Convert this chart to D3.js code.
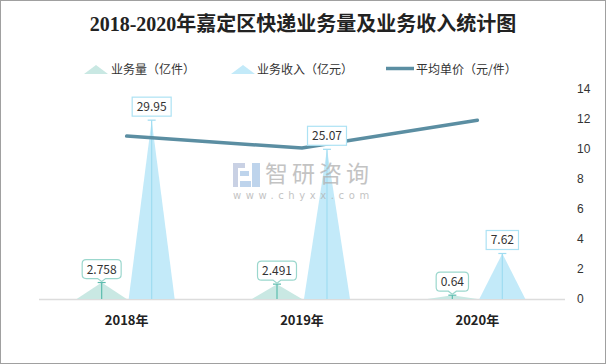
<!DOCTYPE html>
<html><head><meta charset="utf-8">
<script src="https://cdn.jsdelivr.net/npm/d3@7"></script>
<style>
html,body{margin:0;padding:0;background:#fff;}
svg{display:block;font-family:"Noto Sans CJK SC","Noto Sans",sans-serif;}
</style></head>
<body><svg id="c" width="606" height="364"></svg>
<script>
const categories = ['2018年', '2019年', '2020年'];
const volume = [2.758, 2.491, 0.64];        // 业务量（亿件）
const revenue = [29.95, 25.07, 7.62];       // 业务收入（亿元）
const avgPrice = [10.86, 10.06, 11.91];     // 平均单价（元/件）
const rightTicks = [0, 2, 4, 6, 8, 10, 12, 14];
const seriesNames = ['业务量（亿件）', '业务收入（亿元）', '平均单价（元/件）'];

const svg = d3.select('#c');
const C = {
  volFill: '#c9e8e3', volLine: '#5cbcae', volBorder: '#9bd7cd',
  revFill: '#c3eaf9', revLine: '#9fdcf1', revBorder: '#ade2f4',
  price: '#5b8ea2', text: '#333'
};

// border
svg.append('rect').attr('x', 0.5).attr('y', 0.5).attr('width', 605).attr('height', 363)
  .attr('fill', '#fff').attr('stroke', '#a0a0a0');

// title
svg.append('text').attr('x', 303).attr('y', 31).attr('text-anchor', 'middle')
  .attr('font-family', '"Liberation Serif","Noto Sans CJK SC",serif')
  .attr('font-size', 20).attr('font-weight', 'bold').attr('fill', '#222')
  .text('2018-2020年嘉定区快递业务量及业务收入统计图');

const x = d3.scaleBand().domain(categories).range([39, 565]);
const bw = x.bandwidth();
const xs = d3.scaleBand().domain(['v', 'r']).range([bw / 2 - 50, bw / 2 + 50]);
const yL = d3.scaleLinear().domain([0, 35]).range([299, 90]);
const yR = d3.scaleLinear().domain([0, 14]).range([299, 89]);

// baseline
svg.append('line').attr('x1', 39).attr('x2', 565).attr('y1', 299.5).attr('y2', 299.5)
  .attr('stroke', '#dcdcdc').attr('stroke-width', 1.5);

// x axis
const xa = svg.append('g').attr('transform', 'translate(0,299)')
  .call(d3.axisBottom(x).tickSize(0).tickPadding(17));
xa.select('.domain').remove();
xa.selectAll('text').attr('font-size', 13).attr('font-weight', 'bold').attr('fill', '#222')
  .attr('font-family', '"Noto Sans CJK SC",sans-serif');

// right axis
const ra = svg.append('g').attr('transform', 'translate(571,0)')
  .call(d3.axisRight(yR).tickValues(rightTicks).tickSize(0).tickPadding(6));
ra.select('.domain').remove();
ra.selectAll('text').attr('font-size', 12).attr('fill', C.text);

function tri(cx, w, yTop) {
  return `M${cx - w / 2},299 L${cx},${yTop} L${cx + w / 2},299 Z`;
}

const specs = [
  { key: 'v', vals: volume, fill: C.volFill, line: C.volLine, border: C.volBorder, w: 50, callout: true },
  { key: 'r', vals: revenue, fill: C.revFill, line: C.revLine, border: C.revBorder, w: 46, callout: false }
];

const gBars = svg.append('g');
specs.forEach(s => {
  const g = gBars.append('g');
  categories.forEach((c, i) => {
    const cx = x(c) + xs(s.key) + xs.bandwidth() / 2;
    const yt = yL(s.vals[i]);
    g.append('path').attr('d', tri(cx, s.w, yt)).attr('fill', s.fill);
    g.append('line').attr('x1', cx).attr('x2', cx).attr('y1', yt).attr('y2', 299)
      .attr('stroke', s.line).attr('stroke-width', 1.2);
    g.append('line').attr('x1', cx - 4).attr('x2', cx + 4).attr('y1', yt).attr('y2', yt)
      .attr('stroke', s.line).attr('stroke-width', 1.2);
  });
});

// price line
svg.append('path').datum(avgPrice)
  .attr('d', d3.line().x((d, i) => x(categories[i]) + bw / 2).y(d => yR(d)))
  .attr('fill', 'none').attr('stroke', C.price).attr('stroke-width', 3.5)
  .attr('stroke-linecap', 'round');

// labels
specs.forEach(s => {
  categories.forEach((c, i) => {
    const cx = x(c) + xs(s.key) + xs.bandwidth() / 2;
    const yt = yL(s.vals[i]);
    const g = svg.append('g');
    const t = g.append('text').attr('x', cx).attr('text-anchor', 'middle')
      .attr('font-size', 12).attr('fill', C.text).text(s.vals[i]);
    const tw = t.node().getComputedTextLength();
    const w = tw + 9, h = 19;
    const bottom = yt - 4;
    const top = bottom - h;
    t.attr('y', top + 14);
    if (s.callout) {
      const l = cx - w / 2, r = cx + w / 2, rr = 4;
      const p = `M${l + rr},${top} H${r - rr} Q${r},${top} ${r},${top + rr} V${bottom - rr} Q${r},${bottom} ${r - rr},${bottom}
        H${cx + 4} L${cx},${bottom + 3} L${cx - 4},${bottom} H${l + rr} Q${l},${bottom} ${l},${bottom - rr} V${top + rr} Q${l},${top} ${l + rr},${top} Z`;
      g.insert('path', 'text').attr('d', p).attr('fill', '#fff').attr('stroke', s.border).attr('stroke-width', 1.2);
    } else {
      g.insert('rect', 'text').attr('x', cx - w / 2).attr('y', top).attr('width', w).attr('height', h)
        .attr('fill', '#fff').attr('stroke', s.border).attr('stroke-width', 1.2);
    }
  });
});

// legend
const lg = svg.append('g').attr('font-size', 12).attr('fill', C.text);
const legendItems = [
  { x: 84, type: 'tri', fill: C.volFill, tx: 111 },
  { x: 231, type: 'tri', fill: C.revFill, tx: 257 },
  { x: 386, type: 'line', fill: C.price, tx: 416 }
];
legendItems.forEach((it, i) => {
  if (it.type === 'tri') {
    lg.append('path').attr('d', `M${it.x},74 L${it.x + 12},65 L${it.x + 24},74 Z`).attr('fill', it.fill);
  } else {
    lg.append('line').attr('x1', it.x).attr('x2', it.x + 28).attr('y1', 68.5).attr('y2', 68.5)
      .attr('stroke', it.fill).attr('stroke-width', 3.5);
  }
  lg.append('text').attr('x', it.tx).attr('y', 74).attr('fill', C.text).text(seriesNames[i]);
});

// watermark
const wm = svg.append('g').attr('opacity', 0.75);
wm.append('rect').attr('x', 233).attr('y', 163).attr('width', 12).attr('height', 5).attr('fill', '#b7c2dc');
wm.append('rect').attr('x', 233).attr('y', 163).attr('width', 5).attr('height', 24).attr('fill', '#b7c2dc');
wm.append('rect').attr('x', 240).attr('y', 171).attr('width', 9).attr('height', 5).attr('fill', '#a9c6e6');
wm.append('rect').attr('x', 240).attr('y', 181).attr('width', 11).attr('height', 6).attr('fill', '#a9c6e6');
wm.append('rect').attr('x', 252).attr('y', 163).attr('width', 8).attr('height', 24).attr('fill', '#a9c6e6');
wm.append('text').attr('x', 265).attr('y', 182).attr('font-size', 23).attr('fill', '#b0b0b0')
  .attr('letter-spacing', 4).text('智研咨询');
wm.append('text').attr('x', 233).attr('y', 199).attr('font-size', 10).attr('fill', '#b0b0b0')
  .attr('font-family', '"DejaVu Sans",sans-serif')
  .attr('letter-spacing', 4.6).text('www.chyxx.com');
</script></body></html>
